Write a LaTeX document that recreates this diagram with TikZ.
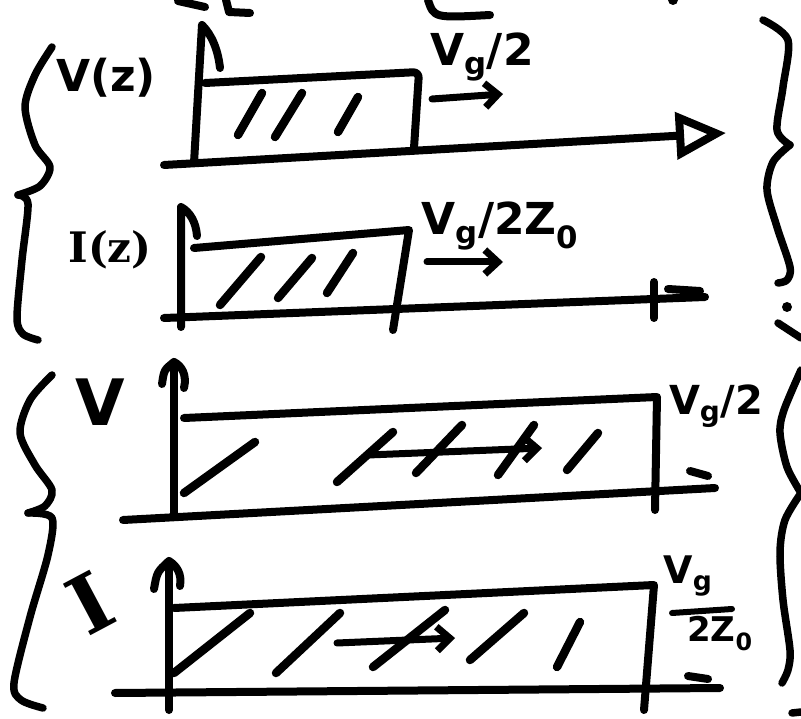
\documentclass[tikz,border=0pt]{standalone}
\usepackage{fontspec}
\setmainfont{DejaVu Sans}
\newfontfamily\serifink{DejaVu Serif}
\usetikzlibrary{arrows.meta}
\begin{document}
\begin{tikzpicture}[x=1pt,y=-1pt,line cap=round,line join=round,
  ink/.style={line width=8pt},
  hatch/.style={line width=8.5pt},
  brace/.style={line width=7.5pt},
  arr/.style={line width=7pt,-{Straight Barb[length=13pt,width=24pt]}},
  openarr/.style={ink,-{Triangle[open,length=50pt,width=46pt]}},
  lbl/.style={inner sep=0pt,font=\bfseries\fontsize{44}{48}\selectfont},
  biglbl/.style={inner sep=0pt,font=\bfseries\fontsize{64}{68}\selectfont}]
\useasboundingbox (0,0) rectangle (801,719);
% fragments cut off at the top edge
\draw[ink] (178,1)--(205,7); \draw[ink] (226,0)--(229,12)--(250,13); \draw[ink] (428,0) .. controls (434,18) .. (490,15); \fill (673,0) circle (5pt);
% braces
\draw[brace] plot[smooth] coordinates {(52,47) (35,75) (25,107) (35,145) (50,167) (40,186) (18,195)};
\draw[brace] plot[smooth] coordinates {(18,195) (28,204) (22,260) (17,318) (23,334) (38,340)};
\draw[brace] plot[smooth] coordinates {(52,375) (30,400) (20,433) (35,465) (52,490) (45,506) (28,513)};
\draw[brace] plot[smooth] coordinates {(28,513) (52,518) (48,555) (30,617) (14,683) (21,700) (43,708)};
\draw[brace] plot[smooth] coordinates {(763,20) (788,40) (783,87) (777,130) (790,145)};
\draw[brace] plot[smooth] coordinates {(790,145) (773,162) (767,190) (777,227) (790,267) (787,280) (778,283)};
\fill (787,307) circle (5pt); \draw[brace] (778,323)--(801,338);
\draw[brace] plot[smooth] coordinates {(801,370) (784,410) (780,433) (787,467) (801,493)};
\draw[brace] plot[smooth] coordinates {(801,493) (785,520) (780,552) (783,600) (790,650) (788,670) (782,683)};
\draw[brace] (792,713)--(801,712);
% V(z)
\node[lbl] (vz) at (106,78) {V(z)};
\draw[ink] (194,163)--(202,25) .. controls (212,35) and (218,50) .. (220,68);
\draw[openarr] (164,165)--(726,133);
\draw[ink,rounded corners=6pt] (205,83)--(419,72)--(414,148);
\draw[hatch] (262,93)--(238,135); \draw[hatch] (302,93)--(275,137); \draw[hatch] (358,97)--(338,132);
\node[lbl] (vg1) at (482,57) {V\textsubscript{g}/2};
\draw[arr] (432,99)--(503,94);
% I(z)
\node[lbl,font=\serifink\bfseries\fontsize{42}{46}\selectfont] (iz) at (110,250) {I(z)};
\draw[ink] (181,327)--(181,207) .. controls (190,212) and (196,222) .. (197,236);
\draw[ink] (164,318)--(705,297); \draw[ink] (654,282)--(654,318); \draw[ink] (668,289)--(700,291);
\draw[ink] (194,248)--(409,230)--(393,330);
\draw[hatch] (261,257)--(220,305); \draw[hatch] (312,258)--(278,298); \draw[hatch] (353,253)--(327,293);
\node[lbl] (vg2) at (500,226) {V\textsubscript{g}/2Z\textsubscript{0}};
\draw[arr] (427,262)--(503,262);
% V
\node[biglbl] (v) at (100,402) {V};
\draw[ink] (162,384) .. controls (164,370) .. (174,362) .. controls (182,366) and (187,375) .. (184,388);
\draw[ink] (174,517)--(174,362);
\draw[ink] (123,520)--(715,488); \draw[ink] (690,471)--(708,476);
\draw[ink] (184,418)--(657,397)--(655,510);
\draw[hatch] (255,442)--(184,493); \draw[hatch] (393,432)--(337,482); \draw[hatch] (462,425)--(416,473); \draw[hatch] (534,425)--(498,475); \draw[hatch] (598,433)--(567,470);
\draw[arr] (368,455)--(542,448);
\node[lbl,font=\bfseries\fontsize{40}{44}\selectfont] (vg3) at (716,406) {V\textsubscript{g}/2};
% I
\node[biglbl,font=\serifink\bfseries\fontsize{80}{84}\selectfont,rotate=28] (i) at (90,603) {I};
\draw[ink] (154,589) .. controls (157,572) .. (169,561) .. controls (177,566) and (182,574) .. (180,586);
\draw[ink] (169,710)--(169,561);
\draw[ink] (115,693)--(720,688); \draw[ink] (688,676)--(708,679);
\draw[ink] (174,608)--(654,585)--(644,710);
\draw[hatch] (250,613)--(174,673); \draw[hatch] (340,613)--(276,673); \draw[hatch] (445,610)--(373,667); \draw[hatch] (524,613)--(470,660); \draw[hatch] (580,622)--(557,667);
\draw[arr] (337,643)--(455,638);
\node[lbl,font=\bfseries\fontsize{38}{42}\selectfont] (vg4n) at (688,576) {V\textsubscript{g}};
\node[lbl,font=\bfseries\fontsize{34}{38}\selectfont] (vg4d) at (720,634) {2Z\textsubscript{0}};
\draw[line width=6pt] (672,613)--(732,609);
\end{tikzpicture}
\end{document}
